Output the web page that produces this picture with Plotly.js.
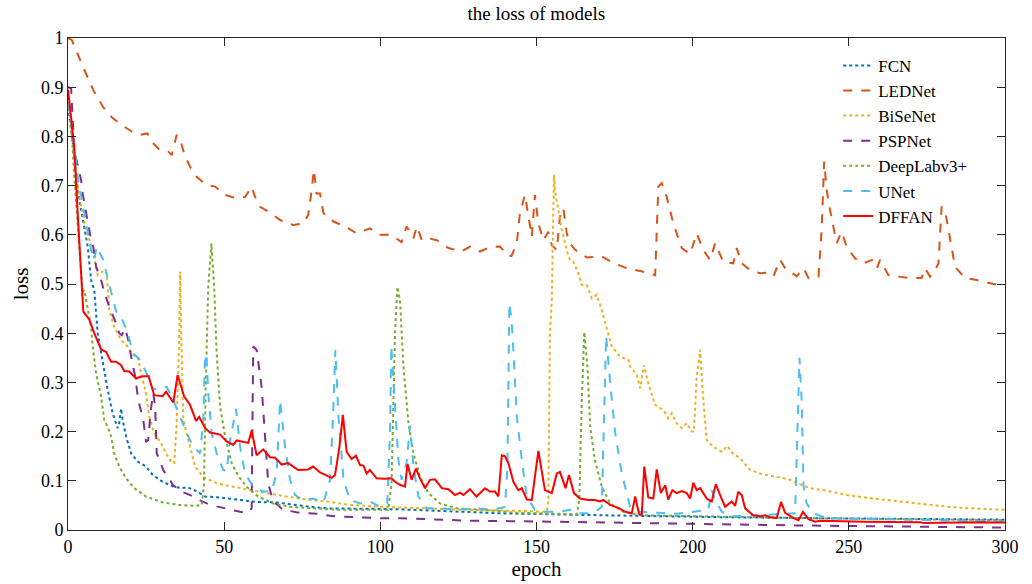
<!DOCTYPE html>
<html>
<head>
<meta charset="utf-8">
<script src="https://cdn.plot.ly/plotly-3.0.1.min.js"></script>
<style>html,body{margin:0;padding:0;background:#fff;}#chart{width:1032px;height:584px;}</style>
</head>
<body>
<div id="chart"></div>
<script>
// ---- Data (epoch, loss) ----
const seriesNames = ["FCN", "LEDNet", "BiSeNet", "PSPNet", "DeepLabv3+", "UNet", "DFFAN"];

const fcnEpoch = [0,1.5,3.1,4.7,6.3,7.4,8.4,9.5,11.1,12.7,14.3,15.9,16.4,17,17.5,18.6,20.2,22.3,25,27.1,30.3,33.5,36.2,38.3,40.4,42.3,44,48.7,54,60.4,66.8,71.1,76.4,82.8,90.3,97.8,106.3,116.9,138.3,170.3,186.4,210,240,270,300];
const fcnLoss  = [0.86,0.79,0.69,0.63,0.576,0.508,0.488,0.40,0.339,0.285,0.237,0.207,0.217,0.247,0.224,0.190,0.156,0.139,0.129,0.112,0.098,0.089,0.085,0.087,0.081,0.075,0.068,0.066,0.062,0.057,0.056,0.052,0.048,0.044,0.044,0.043,0.042,0.039,0.034,0.030,0.028,0.026,0.024,0.022,0.021];

const ledEpoch = [0,1.2,4.9,8.1,11.2,14,17.2,20.4,23,25.4,27.3,29.5,32.1,33.2,34.8,35.9,37.5,39.6,41.2,44.4,47.1,50.3,54,56.7,58.8,59.9,61.5,64.7,67.9,72.1,75.3,76.9,78,78.7,79.6,80.7,81.8,85,88.7,92.4,96.7,99.9,103.6,106.8,108.4,110.6,111.7,113.3,115.4,118.1,121.8,126,128.7,131.9,135.1,138.3,141,142,143.7,144.7,146.3,147.4,148.5,149.5,150.6,152.2,153.8,154.9,156.5,157.5,158.6,159.7,160.7,162.3,166.1,170.9,174.6,178.9,184.2,188,189,190.1,191.7,193.8,196.5,199.2,201.3,203.4,205.6,207.2,209.8,213,214.1,215.7,218.4,221.6,223.7,225.8,228,229.6,233.3,235.5,237.1,240.3,241.3,242.1,242.9,244,246.1,247.7,249.3,252,254.7,257.4,259,260,262.7,265.9,269.6,273.3,274.4,276,277.6,278.7,279.7,280.8,282.4,284,287.2,291,294.2,297.9,300];
const ledLoss  = [1.0,0.996,0.94,0.894,0.86,0.839,0.823,0.81,0.803,0.806,0.786,0.771,0.769,0.762,0.803,0.793,0.759,0.732,0.718,0.701,0.698,0.681,0.674,0.677,0.698,0.677,0.657,0.645,0.63,0.62,0.623,0.64,0.69,0.732,0.684,0.684,0.644,0.627,0.617,0.603,0.613,0.60,0.60,0.585,0.617,0.593,0.617,0.589,0.593,0.589,0.573,0.566,0.576,0.566,0.575,0.576,0.557,0.557,0.583,0.644,0.681,0.637,0.596,0.681,0.623,0.589,0.606,0.579,0.569,0.637,0.654,0.603,0.583,0.57,0.554,0.556,0.543,0.532,0.525,0.518,0.698,0.705,0.677,0.623,0.573,0.561,0.603,0.569,0.549,0.583,0.545,0.542,0.573,0.542,0.528,0.522,0.523,0.515,0.549,0.532,0.516,0.532,0.512,0.515,0.61,0.749,0.691,0.65,0.583,0.606,0.576,0.552,0.542,0.549,0.532,0.549,0.518,0.515,0.512,0.512,0.532,0.515,0.528,0.542,0.657,0.65,0.596,0.535,0.512,0.508,0.503,0.498,0.497];

const biseEpoch = [0,1,3.6,5.8,7.9,9.5,11.6,12.2,12.7,13.2,14.8,17,19.1,20.7,22.3,23.4,25,26,27.6,29.8,31.4,33.3,34,34.8,35.6,35.9,36.4,36.9,38.5,40.7,43.3,47.6,52.9,58.3,63.6,70,76.4,82.8,90.3,101,111.7,127.6,143.7,153.3,153.8,154.3,154.9,155.6,155.9,157,158.1,159.7,160.7,161.8,163.4,164.5,166.1,167.7,169.3,170.9,172.5,174.1,176.8,179.4,180,182.1,183.2,184.4,185.8,188,190.6,192.2,193.3,194.9,196.5,198.1,199.7,200.4,201.3,202.4,203.4,204.5,206.6,209.3,211.1,213,215.2,218.4,221.6,224.8,228,231.2,234.4,237.6,242.9,249.3,257.9,266.4,275,283.5,292,300];
const biseLoss  = [0.87,0.82,0.677,0.61,0.569,0.518,0.528,0.522,0.495,0.447,0.413,0.386,0.373,0.356,0.352,0.318,0.278,0.23,0.197,0.176,0.156,0.136,0.136,0.217,0.386,0.525,0.359,0.224,0.183,0.129,0.108,0.095,0.088,0.081,0.075,0.068,0.062,0.058,0.051,0.047,0.044,0.041,0.039,0.037,0.061,0.40,0.467,0.722,0.691,0.65,0.61,0.569,0.549,0.545,0.522,0.498,0.498,0.471,0.478,0.447,0.41,0.373,0.352,0.346,0.332,0.315,0.288,0.335,0.298,0.254,0.244,0.227,0.237,0.217,0.207,0.217,0.20,0.20,0.312,0.366,0.264,0.183,0.169,0.159,0.171,0.154,0.146,0.122,0.115,0.11,0.107,0.102,0.093,0.085,0.08,0.071,0.064,0.058,0.051,0.046,0.043,0.041];

const pspEpoch = [0,1,2,3.1,4.2,4.7,6.3,7.4,8.1,9,10.6,11.6,13.2,15.4,16.4,17.2,18.3,19.3,20.4,21.5,22.5,24.1,25,25.7,26.5,27.3,27.9,28.4,30.5,33.7,36.4,39.1,41.7,44.4,47.6,51.9,55.1,57.7,58.8,59.3,60.4,62,63.1,64.1,65.7,68.9,74.3,79.6,85,92.4,99.9,106.3,127.6,154.3,186.4,236.5,300];
const pspLoss  = [0.9,0.898,0.772,0.738,0.711,0.684,0.63,0.589,0.576,0.535,0.508,0.484,0.454,0.42,0.40,0.396,0.41,0.386,0.346,0.312,0.264,0.224,0.179,0.183,0.244,0.278,0.251,0.156,0.122,0.091,0.078,0.071,0.062,0.054,0.048,0.042,0.037,0.035,0.044,0.373,0.366,0.291,0.19,0.095,0.058,0.041,0.035,0.033,0.028,0.026,0.024,0.024,0.019,0.017,0.014,0.009,0.005];

const deepEpoch = [0,1,2,3.6,4.7,5.2,6.3,7.4,7.9,9,10.6,11.6,12.7,13.8,14.8,16.4,18.6,21.2,25,30.3,35.6,41,42.8,43.5,44.1,44.9,45.9,46.8,47.6,48.7,50.3,52.4,54.5,57.2,60.9,65.7,71.1,78.5,87.1,95.6,102.5,103.6,104.2,104.7,105.5,106.3,107.4,109,110.6,112.7,115.4,119.1,124.5,133,143.7,154.3,162.9,163.7,164.5,165.3,166.3,167.2,168.7,170.9,173.6,177.8,183.2,210,236.5,270,300];
const deepLoss  = [0.88,0.83,0.72,0.576,0.481,0.488,0.454,0.413,0.373,0.318,0.271,0.224,0.21,0.19,0.156,0.129,0.105,0.085,0.068,0.056,0.051,0.049,0.051,0.088,0.291,0.494,0.582,0.494,0.359,0.251,0.19,0.136,0.11,0.088,0.068,0.054,0.047,0.044,0.041,0.041,0.041,0.095,0.264,0.40,0.494,0.467,0.332,0.217,0.156,0.108,0.075,0.054,0.044,0.041,0.035,0.033,0.032,0.061,0.264,0.402,0.332,0.21,0.142,0.088,0.054,0.037,0.03,0.027,0.024,0.022,0.02];

const unetEpoch = [0,0.6,1.5,3.1,4.7,5.8,7.4,8.4,9.2,11.3,13.4,15.6,17.2,18.8,20.9,23.1,25.2,27.3,29.5,31.6,33.7,35.9,38,40.1,42.3,43.3,43.9,44.4,44.9,46,47.6,49.7,50.8,51.9,53.8,55.1,56.7,59.3,62.5,65.2,66.8,67.9,69.5,71.1,72.7,75.3,78.5,81.8,83.9,84.9,85.6,86.6,88.2,90.3,93.5,96.7,99.9,102.2,103.1,103.5,104.7,105.8,106.8,108.4,109.5,110.6,112.2,114.9,119.1,124.5,130.8,136.2,139.9,140.7,141.3,142,142.6,143.7,145.3,146.9,149.5,153.3,157.5,160.7,163.4,168.2,170.9,171.6,172.3,173.6,175.2,177.3,180,183.2,195,205,206.1,207.2,209.3,213,222,232.8,233.5,234.2,234.9,235.5,236.5,238.7,242.9,260,280,300];
const unetLoss  = [0.87,0.85,0.813,0.718,0.657,0.623,0.569,0.549,0.576,0.549,0.494,0.44,0.43,0.406,0.359,0.346,0.318,0.285,0.291,0.291,0.264,0.23,0.197,0.169,0.156,0.224,0.358,0.346,0.278,0.197,0.156,0.122,0.119,0.183,0.246,0.169,0.115,0.088,0.078,0.078,0.115,0.264,0.169,0.102,0.071,0.061,0.064,0.056,0.102,0.237,0.366,0.23,0.102,0.061,0.054,0.058,0.047,0.054,0.197,0.375,0.264,0.142,0.102,0.136,0.212,0.129,0.068,0.044,0.044,0.041,0.044,0.041,0.047,0.129,0.461,0.427,0.366,0.23,0.142,0.068,0.041,0.037,0.037,0.041,0.034,0.034,0.047,0.197,0.395,0.298,0.197,0.115,0.047,0.037,0.033,0.041,0.081,0.061,0.037,0.028,0.03,0.034,0.197,0.35,0.264,0.088,0.054,0.034,0.024,0.022,0.02,0.017];

const dffanEpoch = [0,2,3.1,4.5,4.9,6.8,8.4,10.6,12.2,13.8,15.4,17,18,19.6,21.8,23.4,25.8,27.6,30.3,31.4,33.7,35.1,37.2,39.1,41,42,43.9,45.5,48.7,50.8,52.9,54,57.7,58.8,60.4,62.5,64.7,66.3,68.4,70.5,73.7,76.9,78.5,80.7,84.4,85.5,86.9,88,89.2,90.8,92.2,93.5,94.6,95.6,96.7,98.8,101.5,103.6,104.7,106.3,107.9,108.7,110,111.4,112.7,114.3,115.9,117.5,119.7,121.8,123.9,125.5,126.6,128.7,130.8,133.5,135.1,136.7,137.8,138.9,139.9,141,142.6,144.2,145.3,146.9,148.5,150.6,152.7,154.9,156.5,157.5,159.3,160.4,162,163.9,166.6,168.7,170.3,171.4,173.6,176.2,178.4,180.5,181.6,182.8,183.7,184.5,185.8,187.4,188.5,189.8,191.2,192.2,193.5,194.9,196.5,198.1,199.2,200.2,201.3,202.4,204.5,206.1,207.4,208.8,210.4,212.5,213.6,214.6,215.7,216.8,219.4,221.6,223.2,224.8,226.9,228.3,229.6,232.3,233.9,235.3,237.1,239.2,240.8,255,272.8,274,290,300];
const dffanLoss  = [0.895,0.779,0.644,0.474,0.444,0.428,0.40,0.367,0.362,0.342,0.342,0.335,0.323,0.322,0.308,0.312,0.313,0.274,0.272,0.281,0.259,0.315,0.271,0.254,0.222,0.23,0.207,0.198,0.194,0.18,0.173,0.182,0.177,0.202,0.152,0.164,0.148,0.147,0.133,0.136,0.122,0.123,0.129,0.117,0.106,0.112,0.169,0.234,0.159,0.144,0.151,0.132,0.131,0.115,0.122,0.105,0.104,0.105,0.098,0.092,0.088,0.134,0.102,0.125,0.105,0.085,0.102,0.103,0.085,0.083,0.071,0.076,0.071,0.083,0.068,0.085,0.078,0.078,0.068,0.152,0.15,0.136,0.098,0.081,0.085,0.062,0.061,0.161,0.081,0.075,0.115,0.118,0.085,0.112,0.075,0.064,0.061,0.061,0.058,0.061,0.051,0.045,0.037,0.034,0.068,0.033,0.031,0.129,0.066,0.064,0.123,0.075,0.091,0.062,0.081,0.075,0.079,0.075,0.064,0.096,0.081,0.085,0.064,0.058,0.093,0.071,0.047,0.058,0.049,0.078,0.071,0.044,0.03,0.028,0.03,0.026,0.024,0.057,0.035,0.024,0.02,0.037,0.022,0.017,0.019,0.017,0.016,0.014,0.016,0.015,0.015];

const xTickVals = [0,50,100,150,200,250,300];
const yTickVals = [0,0.1,0.2,0.3,0.4,0.5,0.6,0.7,0.8,0.9,1];

const seriesX = [fcnEpoch, ledEpoch, biseEpoch, pspEpoch, deepEpoch, unetEpoch, dffanEpoch];
const seriesY = [fcnLoss, ledLoss, biseLoss, pspLoss, deepLoss, unetLoss, dffanLoss];
const colors = ["#0072BD", "#D95319", "#EDB120", "#7E2F8E", "#77AC30", "#4DBEEE", "#FF0000"];
const dashes = ["dot", "dash", "dot", "dash", "dot", "dash", "solid"];

const traces = seriesNames.map((name, i) => ({
  type: "scatter",
  mode: "lines",
  name: name,
  x: seriesX[i],
  y: seriesY[i],
  line: { color: colors[i], width: 2, dash: dashes[i] }
}));

const serif = "Liberation Serif";
const axisCommon = {
  showgrid: false,
  zeroline: false,
  showline: true,
  linecolor: "#262626",
  linewidth: 1,
  mirror: "ticks",
  ticks: "inside",
  ticklen: 8,
  tickwidth: 1,
  tickcolor: "#262626",
  tickfont: { family: serif, size: 18, color: "#000" }
};

const layout = {
  width: 1032,
  height: 584,
  margin: { l: 68, r: 27, t: 38, b: 54 },
  paper_bgcolor: "#fff",
  plot_bgcolor: "#fff",
  font: { family: serif, color: "#000" },
  title: { text: "the loss of models", font: { family: serif, size: 19, color: "#000" }, x: 0.5197, xanchor: "center", y: 0.977, yanchor: "middle" },
  xaxis: Object.assign({}, axisCommon, {
    range: [0, 300],
    tickvals: xTickVals,
    title: { text: "epoch", font: { family: serif, size: 21, color: "#000" }, standoff: 4 }
  }),
  yaxis: Object.assign({}, axisCommon, {
    range: [0, 1],
    tickvals: yTickVals,
    title: { text: "loss", font: { family: serif, size: 21, color: "#000" }, standoff: 6 }
  }),
  showlegend: true,
  legend: {
    x: 0.822, y: 0.98, xanchor: "left", yanchor: "top",
    bgcolor: "rgba(255,255,255,0)",
    borderwidth: 0,
    font: { family: serif, size: 17, color: "#000" },
    tracegroupgap: 0
  }
};

Plotly.newPlot("chart", traces, layout, { displayModeBar: false, staticPlot: true });
</script>
</body>
</html>
